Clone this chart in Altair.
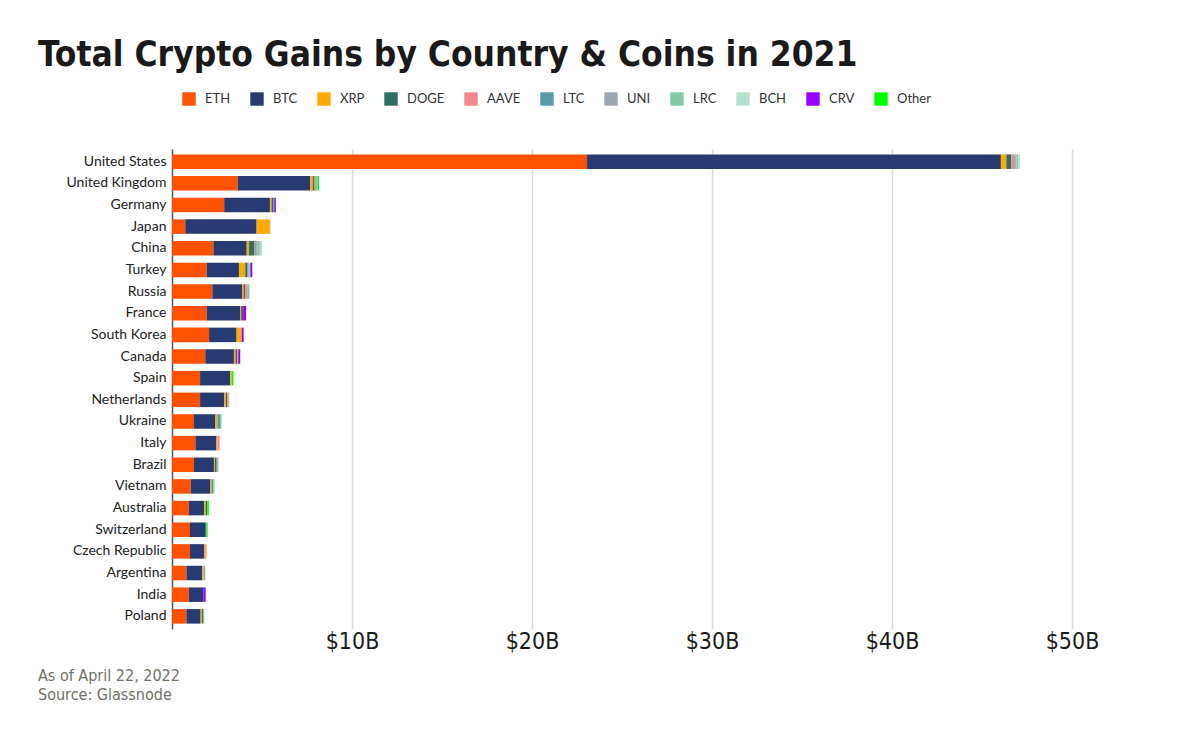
import altair as alt
import pandas as pd

countries = ["United States", "United Kingdom", "Germany", "Japan", "China", "Turkey",
             "Russia", "France", "South Korea", "Canada", "Spain", "Netherlands",
             "Ukraine", "Italy", "Brazil", "Vietnam", "Australia", "Switzerland",
             "Czech Republic", "Argentina", "India", "Poland"]

coins = ["ETH", "BTC", "XRP", "DOGE", "AAVE", "LTC", "UNI", "LRC", "BCH", "CRV", "Other"]
colors = ["#FF5100", "#283A72", "#FFAA00", "#2F6E60", "#F2888C", "#5A9BAA",
          "#9EA6B1", "#84C8A5", "#B4E2CD", "#9900FF", "#00FF00"]

# gains in $B per coin, same order as countries
eth = [23.06, 3.65, 2.90, 0.74, 2.30, 1.93, 2.24, 1.93, 2.06, 1.85, 1.56, 1.56,
       1.22, 1.30, 1.22, 1.04, 0.93, 1.00, 1.00, 0.80, 0.93, 0.80]
btc = [22.99, 4.02, 2.54, 3.96, 1.85, 1.79, 1.65, 1.85, 1.53, 1.59, 1.67, 1.35,
       1.19, 1.17, 1.11, 1.07, 0.85, 0.87, 0.78, 0.87, 0.81, 0.79]
xrp = [0.30, 0.15, 0.09, 0.74, 0.13, 0.35, 0.09, 0.06, 0.28, 0.09, 0.09, 0.09,
       0.11, 0.06, 0.06, 0.07, 0.09, 0.00, 0.07, 0.07, 0.00, 0.07]
doge = [0.28, 0.10, 0.09, 0.00, 0.28, 0.11, 0.09, 0.11, 0.00, 0.09, 0.00, 0.07,
        0.00, 0.00, 0.06, 0.00, 0.09, 0.04, 0.00, 0.00, 0.00, 0.06]
aave = [0.17, 0.05, 0.00, 0.00, 0.06, 0.00, 0.11, 0.00, 0.00, 0.06, 0.00, 0.07,
        0.00, 0.11, 0.00, 0.00, 0.00, 0.00, 0.07, 0.00, 0.00, 0.00]
ltc = [0.06, 0.06, 0.06, 0.00, 0.06, 0.06, 0.00, 0.00, 0.00, 0.00, 0.00, 0.00,
       0.15, 0.00, 0.07, 0.11, 0.00, 0.00, 0.00, 0.00, 0.00, 0.00]
uni = [0.05, 0.05, 0.00, 0.00, 0.05, 0.06, 0.04, 0.00, 0.00, 0.00, 0.00, 0.04,
       0.00, 0.00, 0.06, 0.00, 0.00, 0.00, 0.00, 0.11, 0.00, 0.00]
lrc = [0.10, 0.00, 0.00, 0.00, 0.15, 0.05, 0.06, 0.00, 0.00, 0.00, 0.00, 0.00,
       0.07, 0.00, 0.00, 0.07, 0.00, 0.00, 0.00, 0.00, 0.00, 0.07]
bch = [0.10, 0.00, 0.00, 0.04, 0.12, 0.00, 0.05, 0.00, 0.00, 0.00, 0.00, 0.00,
       0.04, 0.00, 0.00, 0.00, 0.00, 0.00, 0.00, 0.00, 0.00, 0.00]
crv = [0.00, 0.00, 0.09, 0.00, 0.00, 0.11, 0.00, 0.17, 0.11, 0.11, 0.00, 0.00,
       0.00, 0.00, 0.00, 0.00, 0.00, 0.00, 0.00, 0.00, 0.13, 0.00]
other = [0.00, 0.09, 0.00, 0.00, 0.00, 0.00, 0.00, 0.00, 0.00, 0.00, 0.09, 0.00,
         0.00, 0.00, 0.00, 0.00, 0.09, 0.07, 0.00, 0.00, 0.00, 0.00]

x_ticks = [10, 20, 30, 40, 50]
title_text = "Total Crypto Gains by Country & Coins in 2021"
footer_lines = ["As of April 22, 2022", "Source: Glassnode"]

series = [eth, btc, xrp, doge, aave, ltc, uni, lrc, bch, crv, other]
rows = []
for ci, (coin, vals) in enumerate(zip(coins, series)):
    for country, v in zip(countries, vals):
        rows.append({"country": country, "coin": coin, "order": ci, "value": v})
df = pd.DataFrame(rows)

LABEL_FONT = "Lato"
NARROW = "DejaVu Sans Condensed, Roboto"

bars = alt.Chart(df).mark_bar().encode(
    y=alt.Y("country:N", sort=countries,
            scale=alt.Scale(paddingInner=0.33, paddingOuter=0.25),
            axis=alt.Axis(title=None, ticks=False, domain=True, domainColor="#555555",
                          domainWidth=1.5, labelFont=LABEL_FONT, labelFontSize=14,
                          labelColor="#222222", labelPadding=6, grid=False)),
    x=alt.X("value:Q", stack="zero",
            scale=alt.Scale(domain=[0, 51], nice=False),
            axis=alt.Axis(title=None, values=x_ticks, labelExpr="'$' + datum.value + 'B'",
                          ticks=False, domain=False, grid=True, gridColor="#D9D9D9",
                          gridWidth=1.5, labelFont=NARROW, labelFontSize=23,
                          labelColor="#1a1a1a", labelPadding=1)),
    color=alt.Color("coin:N", sort=coins,
                    scale=alt.Scale(domain=coins, range=colors),
                    legend=alt.Legend(title=None, orient="none", direction="horizontal",
                                      columns=11, legendX=10, legendY=-57,
                                      symbolType="square", symbolSize=180,
                                      symbolStrokeWidth=0, symbolOpacity=1,
                                      labelFont=LABEL_FONT, labelFontSize=13,
                                      labelColor="#333333", labelOffset=9,
                                      columnPadding=19)),
    order=alt.Order("order:Q", sort="ascending"),
    tooltip=["country", "coin", "value"],
)

txt_df = pd.DataFrame({"k": [0]})
title_mark = alt.Chart(txt_df).mark_text(
    align="left", baseline="alphabetic", font=NARROW, fontSize=35,
    fontWeight="bold", color="#1a1a1a"
).encode(x=alt.value(-134), y=alt.value(-83), text=alt.value(title_text))

footer_mark = alt.Chart(txt_df).mark_text(
    align="left", baseline="alphabetic", font=NARROW, fontSize=16,
    color="#707066", lineHeight=19
).encode(x=alt.value(-134), y=alt.value(532), text=alt.value(footer_lines))

chart = alt.layer(bars, title_mark, footer_mark).properties(
    width=918, height=480,
    autosize=alt.AutoSizeParams(type="none"),
    padding={"left": 164, "top": 141, "right": 20, "bottom": 100},
).configure(background="white").configure_view(stroke=None)

chart.save("out.html", embed_options={"renderer": "svg", "actions": False})
